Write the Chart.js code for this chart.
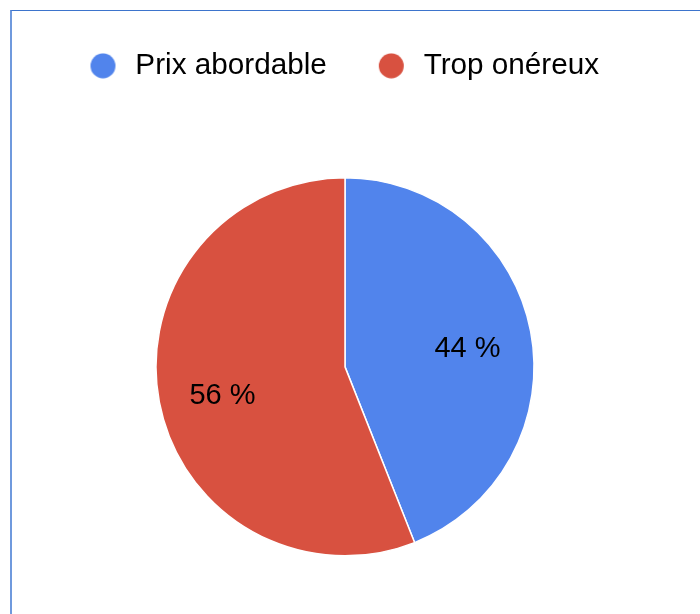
<!DOCTYPE html>
<html>
<head>
<meta charset="utf-8">
<script src="https://cdn.jsdelivr.net/npm/chart.js@4"></script>
<style>
  body { margin: 0; background: #fff; }
  #marco {
    position: absolute; left: 10px; top: 10px; right: 0; bottom: 0;
    border-top: 1px solid #3d74cc; border-left: 2px solid #6f99dd;
  }
  #recorte { position: absolute; left: 0; top: 0; width: 700px; height: 558px; overflow: hidden; }
  #myChart { position: absolute; left: 12px; top: 36px; }
</style>
</head>
<body>
<div id="marco"></div>
<div id="recorte">
  <canvas id="myChart" width="688" height="607"></canvas>
</div>
<script>
let myChart

// datos
const etiquetas = ['Prix abordable', 'Trop onéreux']
const valores = [44, 56]

const colores = ['#5184ec', '#d85140']
const fuente = '"Liberation Sans", Arial, sans-serif'

// circulo de la leyenda dibujado en un canvas aparte
function punto(color) {
  let c = document.createElement('canvas')
  c.width = 67
  c.height = 26
  let g = c.getContext('2d')
  g.fillStyle = color
  g.beginPath()
  g.arc(49.5, 13, 12.5, 0, Math.PI * 2)
  g.fill()
  return c
}

// porcentajes dentro de cada porcion
const porcentajes = {
  id: 'porcentajes',
  afterDatasetsDraw(chart) {
    const ctx = chart.ctx
    const meta = chart.getDatasetMeta(0)
    ctx.save()
    ctx.font = '29px ' + fuente
    ctx.fillStyle = '#000'
    ctx.textAlign = 'center'
    ctx.textBaseline = 'alphabetic'
    meta.data.forEach((arc, i) => {
      const p = arc.getProps(['x', 'y', 'startAngle', 'endAngle', 'outerRadius'], true)
      const medio = (p.startAngle + p.endAngle) / 2
      const r = p.outerRadius * 0.66
      ctx.fillText(valores[i] + ' %', p.x + Math.cos(medio) * r, p.y + Math.sin(medio) * r + 14)
    })
    ctx.restore()
  }
}

window.onload = function () {
  var ctx = document.getElementById('myChart').getContext('2d')
  myChart = new Chart(ctx, {
    type: 'pie',
    data: {
      labels: etiquetas,
      datasets: [{
        data: valores,
        backgroundColor: colores,
        borderColor: '#fff',
        borderWidth: 1.5,
        radius: 189
      }]
    },
    options: {
      responsive: false,
      animation: false,
      layout: { padding: { left: 26.5, right: 48.5, top: 0, bottom: 0 } },
      plugins: {
        tooltip: { enabled: false },
        legend: {
          display: true,
          position: 'top',
          align: 'start',
          labels: {
            usePointStyle: true,
            pointStyleWidth: 67,
            padding: 15,
            color: '#000',
            font: { size: 29.7, family: fuente },
            generateLabels: function (chart) {
              return etiquetas.map((texto, i) => ({
                text: texto,
                fillStyle: colores[i],
                strokeStyle: colores[i],
                fontColor: '#000',
                lineWidth: 0,
                pointStyle: punto(colores[i]),
                hidden: false,
                index: i
              }))
            }
          }
        }
      }
    },
    plugins: [porcentajes]
  })
}
</script>
</body>
</html>
